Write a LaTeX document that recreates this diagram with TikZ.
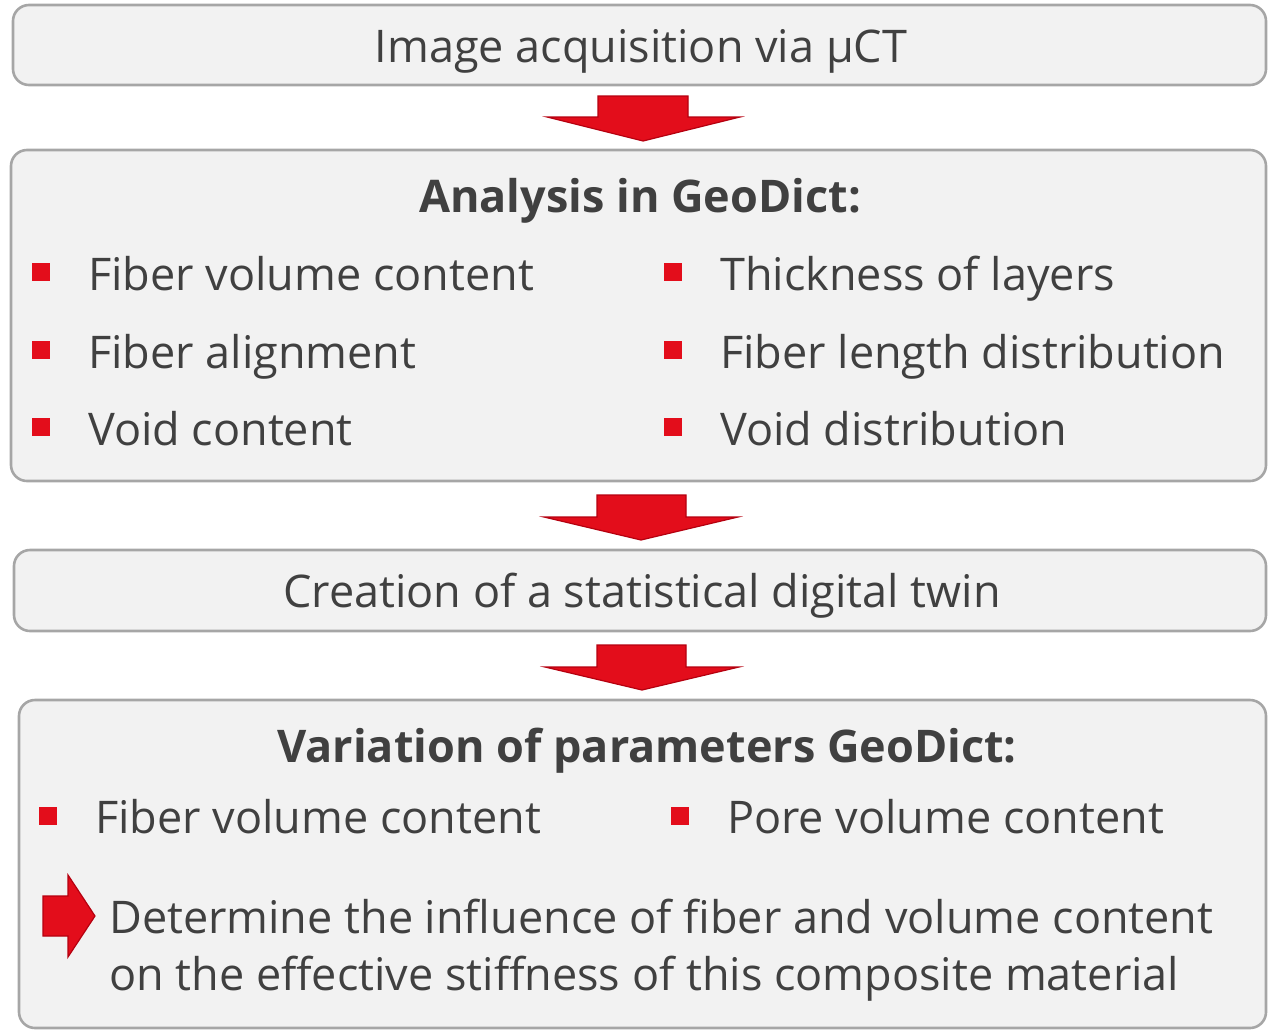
\documentclass[tikz,border=0pt]{standalone}
\usepackage{fontspec}
\setmainfont{Open Sans}
\definecolor{boxfill}{HTML}{F2F2F2}
\definecolor{boxline}{HTML}{A6A6A6}
\definecolor{myred}{HTML}{E30D1B}
\definecolor{myredline}{HTML}{B5000F}
\definecolor{txt}{HTML}{404040}
\begin{document}
\begin{tikzpicture}[x=1pt,y=-1pt,
  panel/.style={draw=boxline,line width=2.6pt,fill=boxfill,rounded corners=16pt},
  redshape/.style={fill=myred,draw=myredline,line width=1.2pt,line join=miter},
  bullet/.style={fill=myred,draw=none},
  txtnode/.style={inner sep=0pt,text=txt,font=\fontsize{45}{54}\selectfont},
  titlenode/.style={inner sep=0pt,text=txt,font=\fontsize{45}{54}\selectfont\bfseries}]
\useasboundingbox (0,0) rectangle (1268,1031);
% boxes
\draw[panel] (13,5) rectangle (1266,85);
\node[txtnode,anchor=base] (t1) at (641,62) {Image acquisition via µCT};
\draw[panel] (11,150) rectangle (1266,481);
\node[titlenode,anchor=base] (t2) at (640,212) {Analysis in GeoDict:};
\draw[panel] (14,550) rectangle (1266,631);
\node[txtnode,anchor=base] (t3) at (642,607) {Creation of a statistical digital twin};
\draw[panel] (19,700) rectangle (1266,1028);
\node[titlenode,anchor=base] (t4) at (647,762) {Variation of parameters GeoDict:};
% down arrows
\draw[redshape] (598,96) -- (688,96) -- (688,117) -- (740,117) -- (643,141) -- (547,117) -- (598,117) -- cycle;
\draw[redshape] (597,495) -- (686,495) -- (686,517) -- (738,517) -- (641,540) -- (544,517) -- (597,517) -- cycle;
\draw[redshape] (597,645) -- (686,645) -- (686,667) -- (739,667) -- (642,690) -- (545,667) -- (597,667) -- cycle;
% bullets box 2
\foreach \y/\a/\b [count=\i] in {290/Fiber volume content/Thickness of layers,368/Fiber alignment/Fiber length distribution,445/Void content/Void distribution}{
  \fill[bullet] (32,\y-27) rectangle (50,\y-9);
  \node[txtnode,anchor=base west] (l\i) at (88,\y) {\a};
  \fill[bullet] (664,\y-27) rectangle (682,\y-9);
  \node[txtnode,anchor=base west] (r\i) at (720,\y) {\b};
}
% bullets box 4
\fill[bullet] (39,807) rectangle (57,825);
\node[txtnode,anchor=base west] (p1) at (95,833) {Fiber volume content};
\fill[bullet] (671,807) rectangle (689,825);
\node[txtnode,anchor=base west] (p2) at (727,833) {Pore volume content};
% right arrow
\draw[redshape] (43,896) -- (68,896) -- (68,875) -- (95,916) -- (68,957) -- (68,936) -- (43,936) -- cycle;
\node[txtnode,anchor=base west] (d1) at (109,933) {Determine the influence of fiber and volume content};
\node[txtnode,anchor=base west] (d2) at (109,990) {on the effective stiffness of this composite material};
\end{tikzpicture}
\end{document}
